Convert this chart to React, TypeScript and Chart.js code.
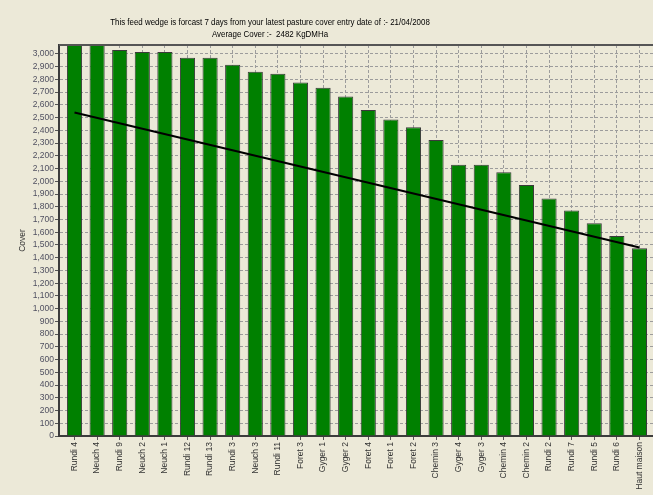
import React, { useEffect, useRef } from 'react';
import { Chart, registerables } from 'chart.js';

Chart.register(...registerables);

// ---- data ----
const paddocks = [
  'Rundi 4', 'Neuch 4', 'Rundi 9', 'Neuch 2', 'Neuch 1', 'Rundi 12', 'Rundi 13',
  'Rundi 3', 'Neuch 3', 'Rundi 11', 'Foret 3', 'Gyger 1', 'Gyger 2', 'Foret 4',
  'Foret 1', 'Foret 2', 'Chemin 3', 'Gyger 4', 'Gyger 3', 'Chemin 4', 'Chemin 2',
  'Rundi 2', 'Rundi 7', 'Rundi 5', 'Rundi 6', 'Haut maison',
];
const coverValues = [
  3100, 3100, 3030, 3015, 3015, 2970, 2970, 2915, 2860, 2845, 2775, 2735, 2665,
  2560, 2485, 2425, 2325, 2130, 2130, 2070, 1970, 1865, 1770, 1670, 1570, 1475,
];
// target wedge line: value at first paddock and at last paddock
const wedgeTarget = [2540, 1480];
const titleLines = [
  'This feed wedge is forcast 7 days from your latest pasture cover entry date of :- 21/04/2008',
  'Average Cover :-  2482 KgDMHa',
];
const yAxisTitle = 'Cover';
const yTickStep = 100;
const yMin = 0;
const yLastTick = 3000;
const yMax = 3070;

const FONT = '"Liberation Sans", Arial, sans-serif';
const BG = '#ECE9D8';

const fmt = (v: number) => String(v).replace(/\B(?=(\d{3})+(?!\d))/g, ',');

const titlePlugin = {
  id: 'wedgeTitle',
  afterDraw(chart: any) {
    const { ctx } = chart;
    const cx = 270;
    const sx = 0.88;
    ctx.save();
    ctx.font = `9px ${FONT}`;
    ctx.fillStyle = '#000000';
    ctx.textAlign = 'center';
    ctx.textBaseline = 'middle';
    ctx.translate(cx, 0);
    ctx.scale(sx, 1);
    titleLines.forEach((t, i) => ctx.fillText(t, 0, 23 + i * 11.5));
    ctx.restore();
  },
};

const framePlugin = {
  id: 'topFrame',
  afterDatasetsDraw(chart: any) {
    const { ctx, chartArea } = chart;
    ctx.save();
    ctx.strokeStyle = '#555555';
    ctx.lineWidth = 2;
    ctx.beginPath();
    ctx.moveTo(chartArea.left, chartArea.top);
    ctx.lineTo(chartArea.right, chartArea.top);
    ctx.stroke();
    ctx.restore();
  },
};

export default function App() {
  const ref = useRef<HTMLCanvasElement | null>(null);

  useEffect(() => {
    document.body.style.margin = '0';
    document.body.style.background = BG;
    const canvas = ref.current;
    if (!canvas) return;
    const last = paddocks.length - 1;
    const chart = new Chart(canvas, {
      type: 'bar',
      data: {
        datasets: [
          {
            type: 'line',
            data: [
              { x: 0, y: wedgeTarget[0] },
              { x: last, y: wedgeTarget[1] },
            ],
            borderColor: '#000000',
            borderWidth: 2,
            pointRadius: 0,
            order: 0,
          } as any,
          {
            type: 'bar',
            data: coverValues.map((v, i) => ({ x: i, y: v })),
            backgroundColor: '#008000',
            borderColor: '#3a3a3a',
            borderWidth: 1,
            barPercentage: 0.67,
            categoryPercentage: 1,
            clip: 0,
            order: 1,
          } as any,
        ],
      },
      options: {
        responsive: false,
        animation: false,
        events: [],
        layout: { padding: { top: 45, left: 0, right: 0, bottom: 0 } },
        plugins: {
          legend: { display: false },
          tooltip: { enabled: false },
          title: { display: false },
        },
        scales: {
          x: {
            type: 'linear',
            offset: false,
            min: -0.686,
            max: 25.6,
            afterBuildTicks: (s: any) => {
              s.ticks = paddocks.map((_, i) => ({ value: i }));
            },
            afterFit: (s: any) => {
              s.height = 59;
              s.paddingLeft = 0;
              s.paddingRight = 0;
            },
            ticks: {
              autoSkip: false,
              maxRotation: 90,
              minRotation: 90,
              padding: 2,
              color: '#333333',
              font: { family: FONT, size: 8.5 },
              callback: (v: any) => paddocks[v] ?? '',
            },
            grid: {
              offset: false,
              color: '#9c9c9c',
              lineWidth: 1,
              tickLength: 4,
              tickColor: '#555555',
            },
            border: { display: true, color: '#3c3c3c', width: 2, dash: [3, 2] },
          },
          y: {
            min: yMin,
            max: yMax,
            afterBuildTicks: (s: any) => {
              const t: any[] = [];
              for (let v = yMin; v <= yLastTick; v += yTickStep) t.push({ value: v });
              s.ticks = t;
            },
            afterFit: (s: any) => {
              s.width = 59;
            },
            ticks: {
              stepSize: yTickStep,
              autoSkip: false,
              padding: 1,
              color: '#505060',
              font: { family: FONT, size: 8.5 },
              callback: (v: any) => fmt(v),
            },
            grid: {
              color: '#9c9c9c',
              lineWidth: 1,
              tickLength: 4,
              tickColor: '#555555',
            },
            border: { display: true, color: '#3c3c3c', width: 2, dash: [3, 2] },
            title: {
              display: true,
              text: yAxisTitle,
              color: '#333333',
              font: { family: FONT, size: 8.5 },
              padding: { top: 18, bottom: 0 },
            },
          },
        },
      } as any,
      plugins: [titlePlugin, framePlugin],
    });
    return () => chart.destroy();
  }, []);

  return (
    <canvas
      ref={ref}
      width={653}
      height={495}
      style={{ position: 'fixed', left: 0, top: 0, background: BG, display: 'block' }}
    />
  );
}
